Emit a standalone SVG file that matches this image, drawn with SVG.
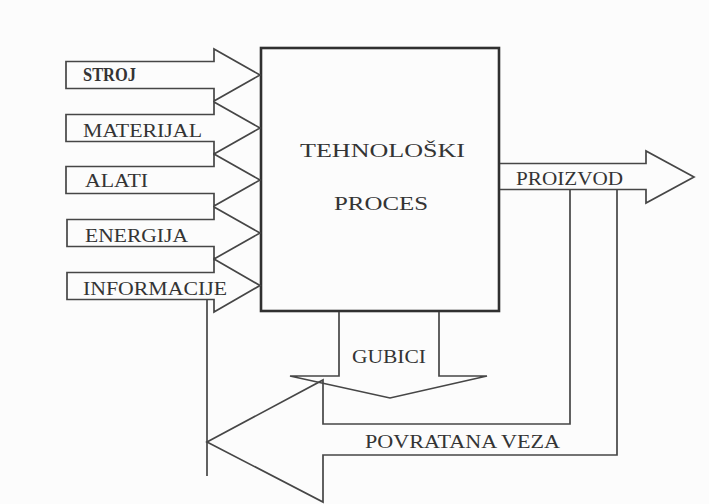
<svg xmlns="http://www.w3.org/2000/svg" width="709" height="504" viewBox="0 0 709 504">
<style>
.ln{fill:none;stroke:#464646;stroke-width:1.7;stroke-linejoin:miter}
.box{fill:none;stroke:#303030;stroke-width:2.6}
.t{font-family:"Liberation Serif","Times New Roman",serif;fill:#343434;font-size:18px}
</style>
<rect width="709" height="504" fill="#fcfcfc"/>
<g id="process">
<rect class="box" x="261" y="48" width="238" height="263"/>
<text class="t" x="300" y="157" font-size="20" textLength="165" lengthAdjust="spacingAndGlyphs">TEHNOLOŠKI</text>
<text class="t" x="334" y="210" font-size="20" textLength="94" lengthAdjust="spacingAndGlyphs">PROCES</text>
</g>
<g id="in-stroj">
<path class="ln" d="M66,61.5 H214 V49 L260,75 L214,101 V88.5 H66 Z"/>
<text class="t" x="83" y="81" font-size="15" font-weight="bold" textLength="53" lengthAdjust="spacingAndGlyphs">STROJ</text>
</g>
<g id="in-materijal">
<path class="ln" d="M66,114.5 H214 V102 L260,128 L214,154 V141.5 H66 Z"/>
<text class="t" x="83" y="137" font-size="18" textLength="119" lengthAdjust="spacingAndGlyphs">MATERIJAL</text>
</g>
<g id="in-alati">
<path class="ln" d="M66,166.5 H214 V154 L260,180 L214,206 V193.5 H66 Z"/>
<text class="t" x="85" y="187" font-size="17" textLength="63" lengthAdjust="spacingAndGlyphs">ALATI</text>
</g>
<g id="in-energija">
<path class="ln" d="M67,219.5 H214 V207 L260,233 L214,259 V246.5 H67 Z"/>
<text class="t" x="85" y="242" font-size="18" textLength="103" lengthAdjust="spacingAndGlyphs">ENERGIJA</text>
</g>
<g id="in-informacije">
<path class="ln" d="M67,272.5 H214 V259 L260,285.5 L214,312 V299.5 H67 Z"/>
<text class="t" x="83" y="295" font-size="18" textLength="144" lengthAdjust="spacingAndGlyphs">INFORMACIJE</text>
</g>
<g id="out-proizvod">
<path class="ln" d="M500,163.5 H646 V151 L694,177 L646,203 V189.5 H500"/>
<text class="t" x="516" y="185" font-size="17" textLength="107" lengthAdjust="spacingAndGlyphs">PROIZVOD</text>
</g>
<g id="gubici">
<path class="ln" d="M339,312 V376 H290 L390,398 L487,376 H439 V312"/>
<text class="t" x="352" y="363" font-size="17" textLength="74" lengthAdjust="spacingAndGlyphs">GUBICI</text>
</g>
<g id="povratna-veza">
<path class="ln" d="M570,190 V424 H323 V380 L207,442 L323,502 V455 H617 V190"/>
<text class="t" x="365" y="448" font-size="17" textLength="195" lengthAdjust="spacingAndGlyphs">POVRATANA VEZA</text>
</g>
<g id="connectors">
<line class="ln" x1="207" y1="300" x2="207" y2="476"/>
</g>
</svg>
